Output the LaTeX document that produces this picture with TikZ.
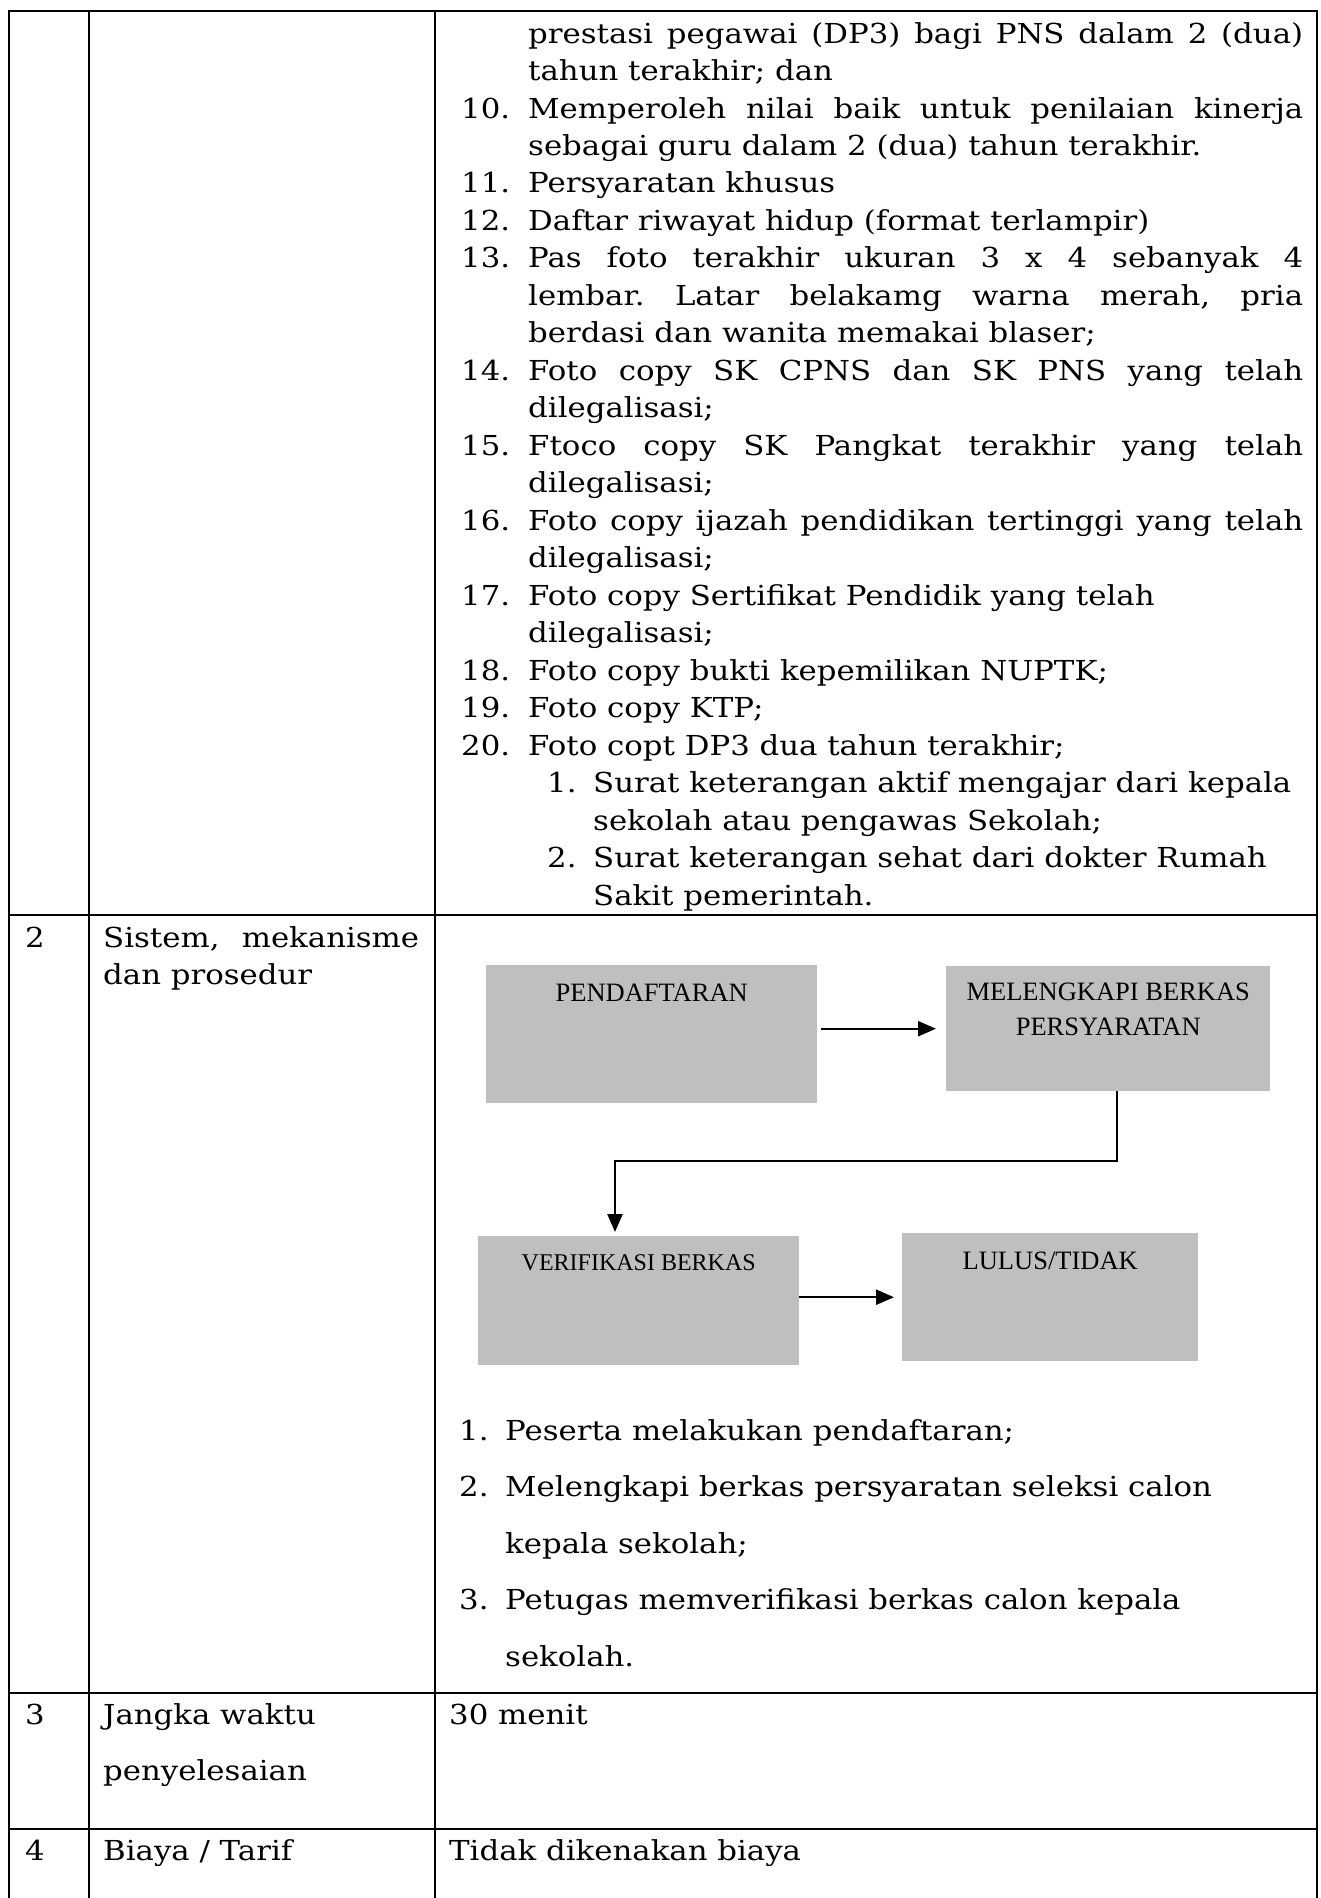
\documentclass[tikz,border=0pt]{standalone}
\usepackage{fontspec}
\setmainfont{DejaVu Serif}[FakeStretch=1.12]
\newfontfamily\boxfont{Liberation Serif}
\usetikzlibrary{arrows.meta}
\definecolor{boxgray}{RGB}{191,191,191}
\frenchspacing
% full-width justified line for the requirement list
\newcommand\jline[1]{\makebox[775pt][s]{#1}}
\begin{document}
\begin{tikzpicture}[x=1pt,y=-1pt,
  grid/.style={line width=2.3pt},
  txt/.style={anchor=base west, inner sep=0pt, font=\fontsize{27.5}{33}\selectfont},
  flowbox/.style={fill=boxgray, draw=none, anchor=north west, inner sep=0pt},
  flowtxt/.style={anchor=base, inner sep=0pt, font=\boxfont\fontsize{26.5}{35}\selectfont},
  arr/.style={line width=2.4pt, -{Triangle[length=18pt,width=15pt]}}]
\useasboundingbox (0,0) rectangle (1321,1898);

% ---- table rules ----
\draw[grid] (9,1898) -- (9,11) -- (1317,11) -- (1317,1898);
\draw[grid] (89,11) -- (89,1898);
\draw[grid] (435,11) -- (435,1898);
\draw[grid] (9,915) -- (1317,915);
\draw[grid] (9,1693) -- (1317,1693);
\draw[grid] (9,1829) -- (1317,1829);

% ---- row 1: requirement list (continued) ----
\node[txt] (r1a) at (528,43) {\jline{prestasi pegawai (DP3) bagi PNS dalam 2 (dua)}};
\node[txt] (r1b) at (528,80.5) {tahun terakhir; dan};
\node[txt] (n10) at (461,118) {10.};
\node[txt] (r1c) at (528,118) {\jline{Memperoleh nilai baik untuk penilaian kinerja}};
\node[txt] (r1d) at (528,155.4) {sebagai guru dalam 2 (dua) tahun terakhir.};
\node[txt] (n11) at (461,192.9) {11.};
\node[txt] (r1e) at (528,192.9) {Persyaratan khusus};
\node[txt] (n12) at (461,230.4) {12.};
\node[txt] (r1f) at (528,230.4) {Daftar riwayat hidup (format terlampir)};
\node[txt] (n13) at (461,267.9) {13.};
\node[txt] (r1g) at (528,267.9) {\jline{Pas foto terakhir ukuran 3 x 4 sebanyak 4}};
\node[txt] (r1h) at (528,305.4) {\jline{lembar. Latar belakamg warna merah, pria}};
\node[txt] (r1i) at (528,342.8) {berdasi dan wanita memakai blaser;};
\node[txt] (n14) at (461,380.3) {14.};
\node[txt] (r1j) at (528,380.3) {\jline{Foto copy SK CPNS dan SK PNS yang telah}};
\node[txt] (r1k) at (528,417.8) {dilegalisasi;};
\node[txt] (n15) at (461,455.3) {15.};
\node[txt] (r1l) at (528,455.3) {\jline{Ftoco copy SK Pangkat terakhir yang telah}};
\node[txt] (r1m) at (528,492.8) {dilegalisasi;};
\node[txt] (n16) at (461,530.2) {16.};
\node[txt] (r1n) at (528,530.2) {\jline{Foto copy ijazah pendidikan tertinggi yang telah}};
\node[txt] (r1o) at (528,567.7) {dilegalisasi;};
\node[txt] (n17) at (461,605.2) {17.};
\node[txt] (r1p) at (528,605.2) {Foto copy Sertifikat Pendidik yang telah};
\node[txt] (r1q) at (528,642.7) {dilegalisasi;};
\node[txt] (n18) at (461,680.2) {18.};
\node[txt] (r1r) at (528,680.2) {Foto copy bukti kepemilikan NUPTK;};
\node[txt] (n19) at (461,717.6) {19.};
\node[txt] (r1s) at (528,717.6) {Foto copy KTP;};
\node[txt] (n20) at (461,755.1) {20.};
\node[txt] (r1t) at (528,755.1) {Foto copt DP3 dua tahun terakhir;};
\node[txt] (s1) at (547,792.6) {1.};
\node[txt] (r1u) at (593,792.6) {Surat keterangan aktif mengajar dari kepala};
\node[txt] (r1v) at (593,830.1) {sekolah atau pengawas Sekolah;};
\node[txt] (s2) at (547,867.6) {2.};
\node[txt] (r1w) at (593,867.6) {Surat keterangan sehat dari dokter Rumah};
\node[txt] (r1x) at (593,905) {Sakit pemerintah.};

% ---- row 2 ----
\node[txt] (no2) at (25,947) {2};
\node[txt] (h2a) at (103,947) {\makebox[316pt][s]{Sistem, mekanisme}};
\node[txt] (h2b) at (103,984.5) {dan prosedur};

% flowchart boxes
\node[flowbox, minimum width=331pt, minimum height=138pt] (pend) at (486,965) {};
\node[flowbox, minimum width=324pt, minimum height=125pt] (mel) at (946,966) {};
\node[flowbox, minimum width=321pt, minimum height=129pt] (verif) at (478,1236) {};
\node[flowbox, minimum width=296pt, minimum height=128pt] (lulus) at (902,1233) {};

\node[flowtxt] (tpend) at ([yshift=-36pt]pend.north) {PENDAFTARAN};
\node[flowtxt] (tmel1) at ([yshift=-34pt]mel.north) {MELENGKAPI BERKAS};
\node[flowtxt] (tmel2) at ([yshift=-69pt]mel.north) {PERSYARATAN};
\node[flowtxt, font=\boxfont\fontsize{24}{30}\selectfont] (tverif) at ([yshift=-34pt]verif.north) {VERIFIKASI BERKAS};
\node[flowtxt] (tlulus) at ([yshift=-36pt]lulus.north) {LULUS/TIDAK};

% flowchart connectors
\coordinate (bendA) at (615,1161);
\draw[arr, shorten <=4pt, shorten >=10pt] (pend.east |- mel.west) -- (mel.west);
\draw[arr, shorten >=4pt] ([xshift=9pt]mel.south) |- (bendA) -- (bendA |- verif.north);
\draw[arr, shorten >=8pt] (verif.east |- lulus.west) -- (lulus.west);

% procedure steps
\node[txt] (p1n) at (459,1440) {1.};
\node[txt] (p1) at (505,1440) {Peserta melakukan pendaftaran;};
\node[txt] (p2n) at (459,1496.5) {2.};
\node[txt] (p2) at (505,1496.5) {Melengkapi berkas persyaratan seleksi calon};
\node[txt] (p2b) at (505,1553) {kepala sekolah;};
\node[txt] (p3n) at (459,1609.5) {3.};
\node[txt] (p3) at (505,1609.5) {Petugas memverifikasi berkas calon kepala};
\node[txt] (p3b) at (505,1666) {sekolah.};

% ---- row 3 ----
\node[txt] (no3) at (25,1724) {3};
\node[txt] (h3a) at (103,1724) {Jangka waktu};
\node[txt] (h3b) at (103,1780) {penyelesaian};
\node[txt] (v3) at (449,1724) {30 menit};

% ---- row 4 ----
\node[txt] (no4) at (25,1860) {4};
\node[txt] (h4) at (103,1860) {Biaya / Tarif};
\node[txt] (v4) at (449,1860) {Tidak dikenakan biaya};
\end{tikzpicture}
\end{document}
